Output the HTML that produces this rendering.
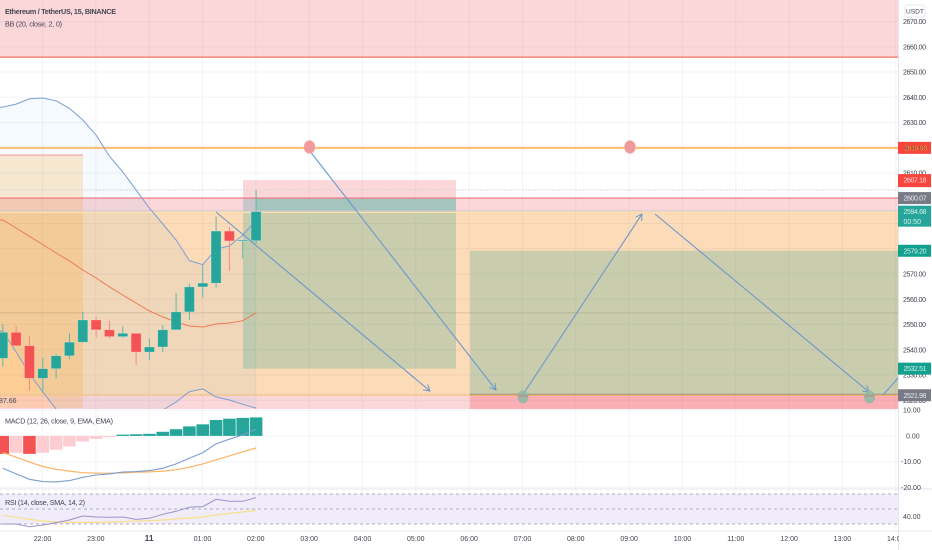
<!DOCTYPE html>
<html lang="en">
<head>
<meta charset="utf-8">
<title>ETHUSDT chart</title>
<style>
html,body{margin:0;padding:0;background:#fff;width:932px;height:550px;overflow:hidden}
svg{display:block;font-family:"Liberation Sans",sans-serif;filter:blur(0.35px)}
</style>
</head>
<body>
<svg id="chart" width="932" height="550" viewBox="0 0 932 550" xmlns="http://www.w3.org/2000/svg">
  <defs>
    <clipPath id="mainClip"><rect x="0" y="0" width="898" height="409"/></clipPath>
    <clipPath id="subClip"><rect x="0" y="409" width="898" height="122"/></clipPath>
    <marker id="arrowHead" markerWidth="9" markerHeight="9" refX="7" refY="4" orient="auto" markerUnits="userSpaceOnUse">
      <path d="M1 0.5 L7 4 L1 7.5" fill="none" stroke="#6b98cc" stroke-width="1"/>
    </marker>
  </defs>
  <rect x="0" y="0" width="932" height="550" fill="#ffffff"/>
  <g id="grid"></g>
  <g id="mainPane" clip-path="url(#mainClip)"></g>
  <g id="arrows" clip-path="url(#mainClip)" fill="none" stroke="#6b98cc" stroke-width="1.1">
    <line x1="216" y1="212" x2="430" y2="391" marker-end="url(#arrowHead)"/>
    <line x1="309" y1="150" x2="496" y2="390" marker-end="url(#arrowHead)"/>
    <line x1="522" y1="396" x2="642" y2="214" marker-end="url(#arrowHead)"/>
    <line x1="655" y1="214" x2="869" y2="392" marker-end="url(#arrowHead)"/>
    <line x1="883" y1="395" x2="899" y2="377"/>
  </g>
  <g id="markers">
    <ellipse cx="309.5" cy="147" rx="5.5" ry="6.5" fill="#f09a9c" stroke="#f4b0b0" stroke-width="0.6"/>
    <ellipse cx="630" cy="147" rx="5.5" ry="6.5" fill="#f09a9c" stroke="#f4b0b0" stroke-width="0.6"/>
    <ellipse cx="523" cy="397" rx="5.5" ry="6.5" fill="#8fb8a4" fill-opacity="0.85"/>
    <ellipse cx="869.5" cy="397" rx="5.5" ry="6.5" fill="#8fb8a4" fill-opacity="0.85"/>
    <line x1="518" x2="528" y1="396" y2="396" stroke="#b8858a" stroke-width="1"/>
    <line x1="864.5" x2="874.5" y1="396" y2="396" stroke="#b8858a" stroke-width="1"/>
  </g>
  <g id="macdPane" clip-path="url(#subClip)"></g>
  <g id="rsiPane"></g>
  <rect x="898.5" y="0" width="33.5" height="550" fill="#ffffff"/>
  <line x1="898.5" y1="0" x2="898.5" y2="550" stroke="#e4e6ee" stroke-width="1"/>
  <line x1="0" y1="489" x2="932" y2="489" stroke="#e4e6ee" stroke-width="1"/>
  <line x1="0" y1="531" x2="932" y2="531" stroke="#e8eaf0" stroke-width="1"/>
  <g id="axisLabels"></g>
  <g fill="#434651">
    <text x="5" y="14" font-size="7.2" font-weight="bold" textLength="111">Ethereum / TetherUS, 15, BINANCE</text>
    <text x="5" y="26.5" font-size="7.2" textLength="57">BB (20, close, 2, 0)</text>
    <text x="5" y="423.5" font-size="7.2" textLength="108">MACD (12, 26, close, 9, EMA, EMA)</text>
    <text x="5" y="505" font-size="7.2" textLength="80">RSI (14, close, SMA, 14, 2)</text>
    <text x="-1" y="403" font-size="7">87.66</text>
  </g>
  <g>
    <rect x="905" y="5" width="20" height="12" rx="2.5" fill="#fff" stroke="#e0e3eb" stroke-width="0.8"/>
    <text x="915" y="13.5" font-size="6.6" fill="#434651" text-anchor="middle">USDT</text>
  </g>
</svg>
<script>
// Candle data (15 min candles)
const candleOpen  = [2536.6,2546.9,2541.6,2528.7,2532.5,2537.6,2543.0,2551.8,2547.9,2545.2,2546.5,2539.1,2541.1,2547.9,2555.0,2564.9,2566.4,2587.0,2583.1,2583.2];
const candleClose = [2546.9,2541.6,2528.7,2532.5,2537.6,2543.0,2551.8,2547.9,2545.2,2546.5,2539.1,2541.1,2547.9,2555.0,2564.9,2566.4,2587.0,2583.1,2583.5,2594.7];
const candleHigh  = [2550.2,2549.4,2545.4,2536.9,2538.3,2546.6,2555.1,2553.1,2551.4,2549.4,2546.5,2544.5,2549.8,2562.5,2566.1,2573.8,2592.7,2588.7,2583.5,2603.3];
const candleLow   = [2533.3,2541.5,2523.7,2523.0,2528.7,2536.2,2543.0,2544.8,2544.5,2544.8,2533.9,2535.9,2539.1,2547.9,2551.8,2560.6,2564.6,2571.2,2576.1,2581.9];
// Bollinger bands
const bbUpper = [2636.1,2637.3,2639.4,2639.7,2638.6,2635.6,2631.0,2625.0,2616.7,2610.4,2603.3,2596.1,2589.8,2583.5,2575.3,2573.7,2579.9,2581.1,2585.4,2591.4];
const bbLower = [2547.4,2539.1,2530.4,2523.3,2516.5,2510.2,2504.3,2500.3,2498.3,2498.3,2500.3,2506.2,2516.1,2519.3,2523.4,2524.5,2521.3,2520.1,2518.4,2516.9];
const bbBasis = [2591.4,2588.2,2584.9,2581.7,2578.3,2575.2,2571.6,2568.4,2564.9,2561.7,2558.5,2555.4,2553.0,2551.0,2549.4,2549.0,2550.2,2550.6,2551.5,2554.6];
// MACD
const macdHist   = [-7.0,-6.6,-7.0,-6.6,-5.4,-4.1,-2.2,-1.2,-0.4,0.5,0.65,0.8,1.6,2.6,3.7,4.5,6.2,6.7,7.0,7.2];
const macdLine   = [-12.6,-14.8,-16.9,-17.8,-17.9,-17.4,-16.1,-15.2,-14.8,-14.1,-13.9,-13.5,-12.6,-10.9,-8.7,-6.5,-3.1,-1.3,0.4,2.6];
const macdSignal = [-6.5,-8.3,-10.2,-11.9,-13.0,-13.7,-14.3,-14.5,-14.5,-14.4,-14.1,-14.0,-13.7,-13.2,-12.2,-10.9,-9.3,-7.8,-6.2,-4.7];
// RSI
const rsiLine   = [30,30,26.4,28.7,31.8,35.3,40.7,39.3,38.9,39.3,36.2,37.6,42.9,46.9,52.3,53.2,63,60.3,60.3,65.2];
const rsiSignal = [41.6,38.9,36.2,34,32.7,32.2,32.2,32.2,32.7,33.1,34,34.4,35.3,36.7,38,39.3,42,44.2,46,48.2];
const rsiBands  = [70,50,30];
// Tick labels
const priceTicks = [2670,2660,2650,2640,2630,2620,2610,2600,2590,2580,2570,2560,2550,2540,2530,2520];
const macdTicks  = [10,0,-10,-20];
const rsiTicks   = [40];
const timeTicks  = ['22:00','23:00','11','01:00','02:00','03:00','04:00','05:00','06:00','07:00','08:00','09:00','10:00','11:00','12:00','13:00','14:00'];
// Horizontal levels and price tags
const levelTopZone = 2655.9;
const levelUpper   = 2619.96;
const levelStop    = 2607.18;
const levelDashed  = 2603.3;
const levelBandTop = 2600.07;
const levelEntry   = 2594.68;
const levelTarget2 = 2579.2;
const levelBasis   = 2554.6;
const levelTarget1 = 2532.51;
const levelBottom  = 2521.98;
const levelLeftBox = 2617.1;

const NS = 'http://www.w3.org/2000/svg';
const yPrice = p => 21.5 + (2670 - p) * 2.525;
const yMacd = v => 435.9 - v * 2.57;
const yRsi = v => 524 - (v - 30) * 0.75;
const xBar = i => 2.8 + 13.33 * i;
const xTime = n => 42.5 + 53.33 * n;
const mainPane = document.getElementById('mainPane');
const gridLayer = document.getElementById('grid');
const macdPane = document.getElementById('macdPane');
const rsiPane = document.getElementById('rsiPane');
const axisLabels = document.getElementById('axisLabels');

function make(parent, tag, attrs) {
  const el = document.createElementNS(NS, tag);
  for (const k in attrs) el.setAttribute(k, attrs[k]);
  parent.appendChild(el);
  return el;
}
function pathFrom(values, yFn) {
  return values.map((v, i) => (i ? 'L' : 'M') + xBar(i).toFixed(1) + ' ' + yFn(v).toFixed(1)).join(' ');
}

// grid
timeTicks.forEach((t, n) => {
  const line = make(gridLayer, 'line', {x1: xTime(n), x2: xTime(n), y1: 0, y2: 531, stroke: '#f2f3f9', 'stroke-width': 1});
  
  
});
priceTicks.forEach(p => {
  const line = make(gridLayer, 'line', {x1: 0, x2: 898, y1: yPrice(p), y2: yPrice(p), stroke: '#f2f3f9', 'stroke-width': 1});
  
  
});
macdTicks.forEach(v => {
  const line = make(gridLayer, 'line', {x1: 0, x2: 898, y1: yMacd(v), y2: yMacd(v), stroke: '#f2f3f9', 'stroke-width': 1});
  
  
});

// zones
function zone(name, x, w, y1, y2, fill) {
  const r = make(mainPane, 'rect', {x: x, y: y1, width: w, height: y2 - y1, fill: fill});
  
  
  return r;
}
function hline(name, y, x1, x2, stroke, sw, dash) {
  const l = make(mainPane, 'line', {x1: x1, x2: x2, y1: y, y2: y, stroke: stroke, 'stroke-width': sw});
  if (dash) l.setAttribute('stroke-dasharray', dash);
  
  
  return l;
}
const RED = 'rgba(242,54,69,.2)';
const yEntry = yPrice(levelEntry), yBandTop = yPrice(levelBandTop), yBottom = yPrice(levelBottom);
zone('upper-resistance-zone', 0, 898, 0, yPrice(levelTopZone), RED);
zone('middle-resistance-band', 0, 898, yBandTop, yEntry, RED);
zone('orange-range-zone', 0, 898, yEntry, yBottom, 'rgba(245,124,0,.28)');
zone('lower-support-band', 0, 898, yBottom, 409, RED);

// bollinger fill
const upPts = bbUpper.map((v, i) => xBar(i).toFixed(1) + ',' + yPrice(v).toFixed(1));
const loPts = bbLower.map((v, i) => xBar(i).toFixed(1) + ',' + yPrice(v).toFixed(1)).reverse();
const bbFill = make(mainPane, 'polygon', {
  points: '0,' + yPrice(bbUpper[0]).toFixed(1) + ' ' + upPts.join(' ') + ' ' + loPts.join(' ') + ' 0,' + yPrice(bbLower[0]).toFixed(1),
  fill: 'rgba(33,150,243,.05)'
});



// position boxes
zone('left-position-box', 0, 83, yPrice(levelLeftBox), 408, 'rgba(255,152,0,.18)');
hline('left-box-top', yPrice(levelLeftBox), 0, 83, '#f9b4b0', 1.5);
zone('short-position-stop-area', 243, 213, yPrice(levelStop), yEntry, 'rgba(242,54,69,.2)');
zone('short-position-overlap', 243, 13, yBandTop, yEntry, '#c9c5cb');
zone('short-position-entry-band', 256, 200, yBandTop, yEntry, '#a5c4be');
zone('short-position-target-area', 243, 213, yEntry, yPrice(levelTarget1), 'rgba(0,150,136,.2)');
zone('right-position-target-area', 470, 428, yPrice(levelTarget2), yBottom, 'rgba(0,150,136,.2)');
zone('right-position-stop-area', 470, 428, yBottom, 409, 'rgba(242,54,69,.25)');

// levels
hline('upper-zone-line', yPrice(levelTopZone), 0, 898, '#f4705f', 1.2);
hline('level-line-2619', yPrice(levelUpper), 0, 898, '#fbbc6c', 2);
hline('dashed-level-line', yPrice(levelDashed), 0, 898, '#d4d6dc', 0.8, '2 1');
hline('band-top-line', yBandTop, 0, 898, '#f0717a', 1.2);
hline('band-bottom-line', yEntry - 0.8, 0, 898, '#cfc8d2', 1);
hline('entry-line', yEntry + 0.7, 0, 898, '#fde3a8', 1.2);
hline('basis-price-line', yPrice(levelBasis), 0, 898, 'rgba(120,110,90,.25)', 1);
hline('lower-grey-line', yBottom - 1, 0, 470, '#d9c7b5', 0.8, '3 1');
hline('lower-orange-line', yBottom, 0, 470, '#fcc478', 1);
hline('lower-grey-line-right', yBottom - 1, 470, 898, '#8e9488', 1);
hline('lower-orange-line-right', yBottom, 470, 898, '#f7ad4e', 1);

// bollinger lines
const upLine = make(mainPane, 'path', {d: 'M0 ' + yPrice(bbUpper[0]).toFixed(1) + ' ' + pathFrom(bbUpper, yPrice).replace('M', 'L'), fill: 'none', stroke: '#7b9fcf', 'stroke-width': 1});


const loLine = make(mainPane, 'path', {d: 'M0 ' + yPrice(bbLower[0]).toFixed(1) + ' ' + pathFrom(bbLower, yPrice).replace('M', 'L'), fill: 'none', stroke: '#7b9fcf', 'stroke-width': 1});


const basisLine = make(mainPane, 'path', {d: 'M0 ' + yPrice(bbBasis[0]).toFixed(1) + ' ' + pathFrom(bbBasis, yPrice).replace('M', 'L'), fill: 'none', stroke: '#ec7a55', 'stroke-width': 1});



// candles
candleOpen.forEach((o, i) => {
  const c = candleClose[i];
  const up = c >= o;
  const color = up ? '#26a69a' : '#f55353';
  const x = xBar(i);
  const wick = make(mainPane, 'line', {x1: x, x2: x, y1: yPrice(candleHigh[i]), y2: yPrice(candleLow[i]), stroke: up ? '#5db8ae' : '#f58a85', 'stroke-width': 1});
  
  
  const top = yPrice(Math.max(o, c));
  const h = Math.max(1, Math.abs(yPrice(o) - yPrice(c)));
  const body = make(mainPane, 'rect', {x: x - 5, y: top, width: 10, height: h, fill: color, stroke: 'rgba(255,255,255,.35)', 'stroke-width': 0.6});
  
  
});

// MACD
macdHist.forEach((v, i) => {
  const y0 = yMacd(0), y1 = yMacd(v);
  const falling = v < 0 && (i === 0 || v < macdHist[i - 1]);
  const fill = v >= 0 ? '#26a69a' : (falling ? '#f55353' : '#fdcdd2');
  const bar = make(macdPane, 'rect', {x: xBar(i) - 6.3, y: Math.min(y0, y1), width: 12.6, height: Math.abs(y1 - y0), fill: fill});
  
  
});
const macdSig = make(macdPane, 'path', {d: pathFrom(macdSignal, yMacd), fill: 'none', stroke: '#fbb366', 'stroke-width': 1.2});


const macdLn = make(macdPane, 'path', {d: pathFrom(macdLine, yMacd), fill: 'none', stroke: '#7b9fcf', 'stroke-width': 1.1});



// RSI
const rsiBg = make(rsiPane, 'rect', {x: 0, y: yRsi(rsiBands[0]), width: 898, height: yRsi(rsiBands[2]) - yRsi(rsiBands[0]), fill: '#f0ecf9'});


rsiBands.forEach(v => {
  const l = make(rsiPane, 'line', {x1: 0, x2: 898, y1: yRsi(v), y2: yRsi(v), stroke: '#9598a1', 'stroke-width': 0.8, 'stroke-dasharray': '3 3'});
  
  
});
const rsiSig = make(rsiPane, 'path', {d: pathFrom(rsiSignal, yRsi), fill: 'none', stroke: '#fbe08a', 'stroke-width': 1.2});


const rsiLn = make(rsiPane, 'path', {d: pathFrom(rsiLine, yRsi), fill: 'none', stroke: '#9b93c4', 'stroke-width': 1});



// axis labels
function label(txt, x, y, opts) {
  const t = make(axisLabels, 'text', Object.assign({x: x, y: y, 'font-size': 7, fill: '#434651'}, opts || {}));
  t.textContent = txt;
  return t;
}
priceTicks.forEach(p => {
  const t = label(p.toFixed(2), 903, yPrice(p) + 2.5, {textLength: 23});
  
  
});
macdTicks.forEach(v => {
  const t = label(v.toFixed(2), v < 0 ? 901 : 903 + (v === 0 ? 3 : 0), yMacd(v) + 2.5);
  
  
});
rsiTicks.forEach(v => {
  const t = label(v.toFixed(2), 903, yRsi(v) + 2.5);
  
  
});
timeTicks.forEach((txt, n) => {
  const isDay = txt === '11';
  const t = label(txt, xTime(n), 541, {'text-anchor': 'middle', 'font-size': isDay ? 8.5 : 7, 'font-weight': isDay ? 'bold' : 'normal'});
  
  
});
const axisMask = make(axisLabels, 'rect', {x: 899, y: 532, width: 33, height: 18, fill: '#fff'});



// price tags
function tag(name, price, fill, color, h, extra) {
  const y = yPrice(price);
  const r = make(axisLabels, 'rect', {x: 898, y: y - 6, width: 33, height: h, fill: fill});
  
  
  const t = label(price.toFixed(2), 903.5, y + 2.5, {fill: color, textLength: 23});
  
  
  if (extra) {
    const e = label(extra, 903.5, y + 12.5, {fill: color});
    
    
  }
}
tag('price-tag-2619', levelUpper, '#f9443c', '#5a3a2a', 12);
const overText = label(levelUpper.toFixed(2), 904, yPrice(levelUpper) + 2.8, {fill: '#fbd45a', opacity: 0.7, textLength: 23});


tag('price-tag-2607', levelStop, '#f9443c', '#fde2e0', 13);
tag('price-tag-2600', levelBandTop, '#787b86', '#e8e9ee', 12);
tag('price-tag-current', levelEntry, '#26a69a', '#d6efec', 21, '00:50');
tag('price-tag-2579', levelTarget2, '#12a08f', '#d6efec', 12);
tag('price-tag-2532', levelTarget1, '#12a08f', '#d6efec', 12);
tag('price-tag-2521', levelBottom, '#787b86', '#e8e9ee', 12);
</script>
</body>
</html>
